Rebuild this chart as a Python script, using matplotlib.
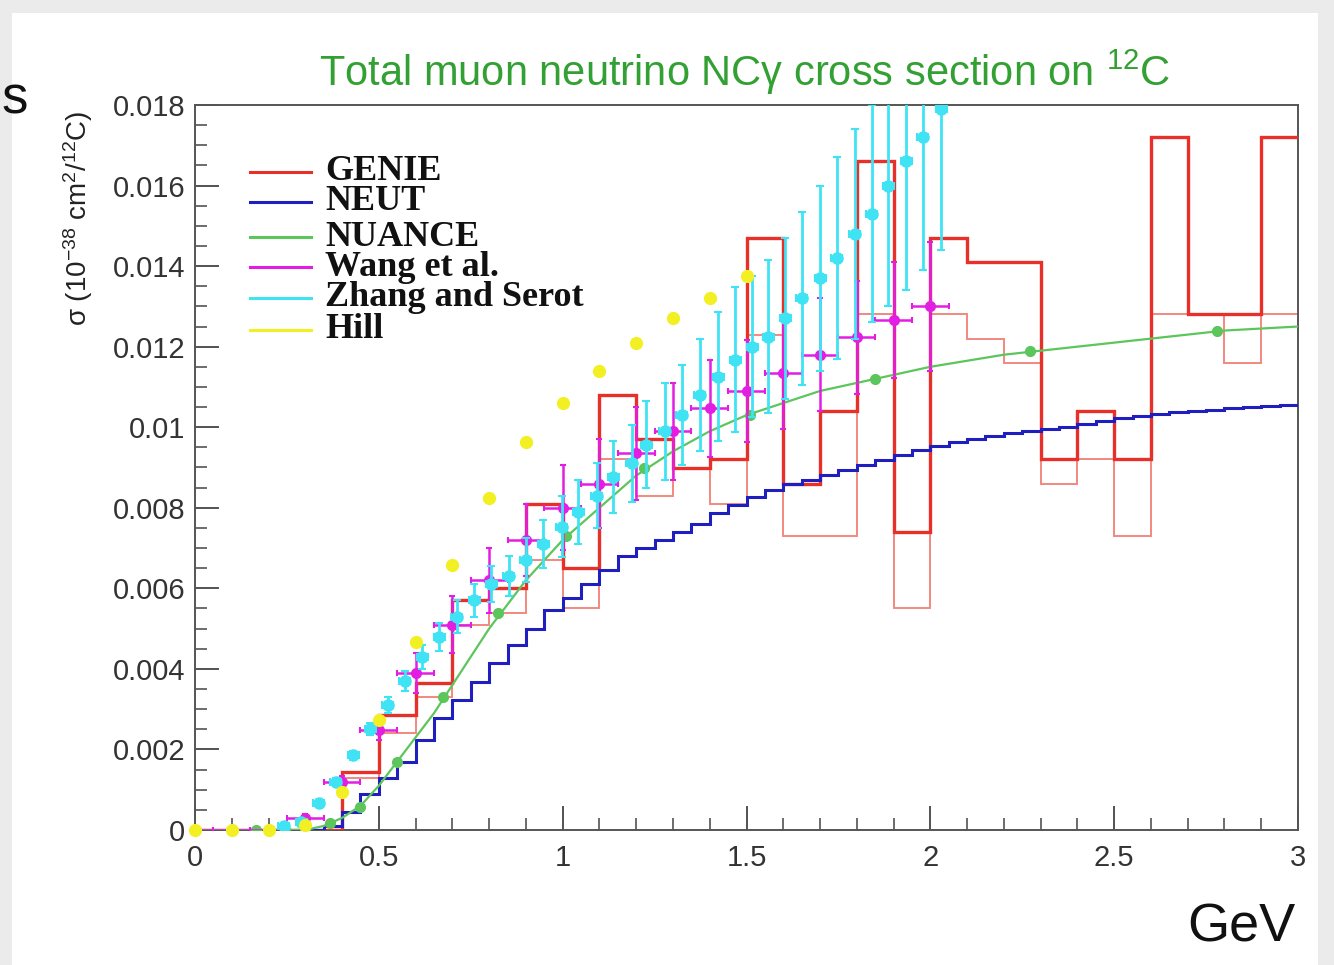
import numpy as np
import matplotlib
matplotlib.use("Agg")
import matplotlib.pyplot as plt
from matplotlib.patches import Rectangle
from matplotlib.lines import Line2D

plt.rcParams['font.family'] = ['Liberation Sans', 'DejaVu Sans']
plt.rcParams['mathtext.fontset'] = 'custom'
plt.rcParams['mathtext.rm'] = 'Liberation Sans'
plt.rcParams['mathtext.it'] = 'Liberation Sans:italic'

# ---------------- data ----------------
genie_edges = np.linspace(0.0, 3.0, 31)
genie_main = [0, 0, 0, 0, 0.00145, 0.00285, 0.00365, 0.0057, 0.0060, 0.0081,
              0.0065, 0.0108, 0.0097, 0.0090, 0.0092, 0.0147, 0.0086, 0.0104, 0.0166, 0.0074,
              0.0147, 0.0141, 0.0141, 0.0092, 0.0104, 0.0092, 0.0172, 0.0128, 0.0128, 0.0172]
genie_alt = [0, 0, 0, 0, 0.0013, 0.0024, 0.0033, 0.0051, 0.0054, 0.0067,
             0.0055, 0.0092, 0.0083, 0.0090, 0.0081, 0.0123, 0.0073, 0.0073, 0.0128, 0.0055,
             0.0128, 0.0122, 0.0116, 0.0086, 0.0092, 0.0073, 0.0128, 0.0128, 0.0116, 0.0128]

neut_edges = np.linspace(0.0, 3.0, 61)
neut_vals = [0, 0, 0, 0, 0, 0, 0, 0.0001, 0.00045, 0.0009,
             0.0013, 0.0017, 0.00223, 0.00277, 0.00323, 0.00368, 0.00414, 0.00459, 0.0050, 0.00546,
             0.00575, 0.0061, 0.00645, 0.0068, 0.0070, 0.0072, 0.0074, 0.0076, 0.00786, 0.00807,
             0.00827, 0.00844, 0.0086, 0.0087, 0.00881, 0.00894, 0.00906, 0.00919, 0.00931, 0.00943,
             0.00953, 0.00964, 0.0097, 0.00978, 0.00985, 0.0099, 0.00995, 0.0100, 0.01007, 0.01015,
             0.01022, 0.01027, 0.01032, 0.01037, 0.01041, 0.01044, 0.01047, 0.0105, 0.01053, 0.01056]

nuance_curve_e = [0.0, 0.30, 0.35, 0.40, 0.45, 0.50, 0.55, 0.60, 0.65, 0.70, 0.75, 0.80, 0.85,
                  0.90, 0.95, 1.00, 1.10, 1.20, 1.30, 1.40, 1.50, 1.60, 1.70, 1.80, 1.90,
                  2.00, 2.20, 2.40, 2.60, 2.80, 3.00]
nuance_curve_s = [0.0, 0.0, 0.0001, 0.0003, 0.0006, 0.0011, 0.0017, 0.0023, 0.0029, 0.0036, 0.0043,
                  0.0050, 0.0056, 0.0062, 0.0067, 0.0072, 0.0080, 0.0088, 0.0094, 0.0099, 0.0103,
                  0.0106, 0.0109, 0.0111, 0.0113, 0.0115, 0.0118, 0.0120, 0.0122, 0.0124, 0.0125]
nuance_pts_e = [0.165, 0.20, 0.245, 0.30, 0.367, 0.449, 0.549, 0.675, 0.825, 1.01, 1.22,
                1.51, 1.85, 2.27, 2.78]
nuance_pts_s = [0.0, 0.0, 0.0, 0.0, 0.00017, 0.00058, 0.0017, 0.0033, 0.0054, 0.0073, 0.0090,
                0.0103, 0.0112, 0.0119, 0.0124]

wang_e = [0.0, 0.1, 0.2, 0.3, 0.4, 0.5, 0.6, 0.7, 0.8, 0.9, 1.0, 1.1, 1.2, 1.3, 1.4, 1.5,
          1.6, 1.7, 1.8, 1.9, 2.0]
wang_s = [0.0, 0.0, 0.0, 0.0003, 0.0012, 0.00248, 0.0039, 0.0051, 0.0062, 0.0072, 0.0080,
          0.0086, 0.00935, 0.0099, 0.01047, 0.0109, 0.01135, 0.0118, 0.01223, 0.01266, 0.0130]
wang_err = [0.0, 0.0, 0.0, 0.0001, 0.00015, 0.00025, 0.0005, 0.0007, 0.0008, 0.0009, 0.00105,
            0.0011, 0.00115, 0.0012, 0.0012, 0.00126, 0.0014, 0.0014, 0.0014, 0.00145, 0.0016]
wang_xerr = 0.05

zhang_e = [0.242, 0.289, 0.336, 0.383, 0.430, 0.477, 0.524, 0.571, 0.618, 0.665, 0.712,
           0.759, 0.806, 0.853, 0.900, 0.947, 0.997, 1.043, 1.093, 1.138, 1.188, 1.228,
           1.278, 1.324, 1.373, 1.423, 1.469, 1.515, 1.559, 1.605, 1.650, 1.700, 1.745,
           1.795, 1.840, 1.885, 1.935, 1.980, 2.030]
zhang_s = [0.0001, 0.0002, 0.00066, 0.0012, 0.00185, 0.0025, 0.0031, 0.0037, 0.0043, 0.0048,
           0.0053, 0.0057, 0.0061, 0.0063, 0.0067, 0.0071, 0.00753, 0.0079, 0.0083, 0.00877,
           0.0091, 0.00956, 0.0099, 0.0103, 0.0108, 0.01125, 0.01167, 0.0120, 0.01225, 0.0127,
           0.0132, 0.0137, 0.0142, 0.0148, 0.0153, 0.0160, 0.0166, 0.0172, 0.0179]
zhang_err = [0.00003, 0.00005, 0.00008, 0.0001, 0.00012, 0.00015, 0.0002, 0.00025, 0.0003,
             0.00035, 0.0004, 0.0004, 0.00045, 0.0005, 0.00055, 0.0006, 0.00075, 0.0008, 0.0008,
             0.00089, 0.00095, 0.00108, 0.0012, 0.00124, 0.0014, 0.0016, 0.0018, 0.00175,
             0.0019, 0.0020, 0.00215, 0.0023, 0.0025, 0.0026, 0.0027, 0.0030, 0.0032, 0.0033,
             0.0035]
zhang_xerr = 0.015

hill_e = [0.0, 0.1, 0.2, 0.3, 0.4, 0.5, 0.6, 0.7, 0.8, 0.9, 1.0, 1.1, 1.2, 1.3, 1.4, 1.5]
hill_s = [0.0, 0.0, 0.0, 0.00012, 0.00095, 0.00273, 0.00468, 0.00658, 0.00824, 0.00963,
          0.0106, 0.0114, 0.0121, 0.0127, 0.0132, 0.01375]

legend_labels = ["GENIE", "NEUT", "NUANCE", "Wang et al.", "Zhang and Serot", "Hill"]
x_ticks = [0, 0.5, 1, 1.5, 2, 2.5, 3]
x_tick_labels = ["0", "0.5", "1", "1.5", "2", "2.5", "3"]
y_ticks = [0, 0.002, 0.004, 0.006, 0.008, 0.010, 0.012, 0.014, 0.016, 0.018]
y_tick_labels = ["0", "0.002", "0.004", "0.006", "0.008", "0.01", "0.012", "0.014",
                 "0.016", "0.018"]

# ---------------- styles ----------------
C_GENIE = '#e8302a'
C_GENIE2 = '#f2897f'
C_NEUT = '#1f1fbf'
C_NUANCE = '#5cc55c'
C_WANG = '#e21ee2'
C_ZHANG = '#3fe3f3'
C_HILL = '#f2ef22'
C_TITLE = '#33a033'

W, H = 1334, 965
fig = plt.figure(figsize=(W / 100, H / 100), dpi=100)
fig.patch.set_facecolor('#ebebeb')


def fx(px):
    return px / W


def fy(py):
    return 1 - py / H


fig.patches.append(Rectangle((fx(12), 0), fx(1318) - fx(12), fy(13), transform=fig.transFigure,
                             facecolor='white', edgecolor='none', zorder=-10))

ax = fig.add_axes([fx(195), fy(830), fx(1298) - fx(195), fy(105) - fy(830)])
ax.set_zorder(1)
ax.set_facecolor('white')
ax.set_xlim(0, 3)
ax.set_ylim(0, 0.018)

ax.stairs(genie_alt, genie_edges, baseline=None, color=C_GENIE2, lw=1.4, zorder=2)
ax.stairs(genie_main, genie_edges, baseline=None, color=C_GENIE, lw=2.4, zorder=3)
ax.stairs(neut_vals, neut_edges, baseline=None, color=C_NEUT, lw=2.2, zorder=4)
ax.plot(nuance_curve_e, nuance_curve_s, color=C_NUANCE, lw=1.6, zorder=5)
ax.plot(nuance_pts_e, nuance_pts_s, 'o', color=C_NUANCE, ms=7, zorder=5)
ax.errorbar(wang_e, wang_s, yerr=wang_err, xerr=wang_xerr, fmt='o', color=C_WANG, ms=7,
            elinewidth=1.8, capsize=2.5, capthick=1.5, zorder=6)
ax.errorbar(zhang_e, zhang_s, yerr=zhang_err, xerr=zhang_xerr, fmt='o', color=C_ZHANG, ms=8,
            elinewidth=2.0, capsize=3, capthick=1.5, zorder=7)
ax.plot(hill_e, hill_s, 'o', color=C_HILL, ms=8.5, zorder=8, clip_on=False)

ax.set_xticks(x_ticks)
ax.set_xticklabels(x_tick_labels)
ax.set_yticks(y_ticks)
ax.set_yticklabels(y_tick_labels)
ax.set_xticks(np.linspace(0, 3, 31), minor=True)
ax.set_yticks(np.linspace(0, 0.018, 37), minor=True)
ax.tick_params(which='major', direction='in', length=17, width=1.3, color='#444444',
               labelsize=21, labelcolor='#333333', top=False, right=False)
ax.tick_params(which='minor', direction='in', length=8.5, width=1.1, color='#444444',
               top=False, right=False)
ax.tick_params(axis='x', pad=10)
ax.tick_params(axis='y', pad=7)
for s in ax.spines.values():
    s.set_color('#555555')
    s.set_linewidth(1.4)

# title and axis labels
fig.text(fx(745), fy(72), r"Total muon neutrino NCγ cross section on $^{12}$C",
         color=C_TITLE, fontsize=30, ha='center', va='center')
fig.text(fx(78), fy(218), r"σ (10$^{-38}$ cm$^{2}$/$^{12}$C)", rotation=90,
         fontsize=20, ha='center', va='center', color='#222222')
fig.text(fx(1296), fy(942), "GeV", fontsize=39, ha='right', va='baseline', color='#111111')
fig.text(fx(1), fy(100), "s", fontsize=38, ha='left', va='center', color='#111111')

# legend (drawn manually to match the original box-less legend)
leg_colors = [C_GENIE, C_NEUT, C_NUANCE, C_WANG, C_ZHANG, C_HILL]
leg_y = [172, 202, 237, 267, 298, 330]
for lab, col, yy in zip(legend_labels, leg_colors, leg_y):
    fig.lines.append(Line2D([fx(250), fx(311)], [fy(yy), fy(yy)], color=col, lw=2.2,
                            transform=fig.transFigure))
    fig.text(fx(325), fy(yy), lab, fontsize=26, family='Liberation Serif',
             weight='bold', ha='left', va='center', color='#111111')

fig.savefig('out.png', dpi=100, facecolor=fig.get_facecolor())
